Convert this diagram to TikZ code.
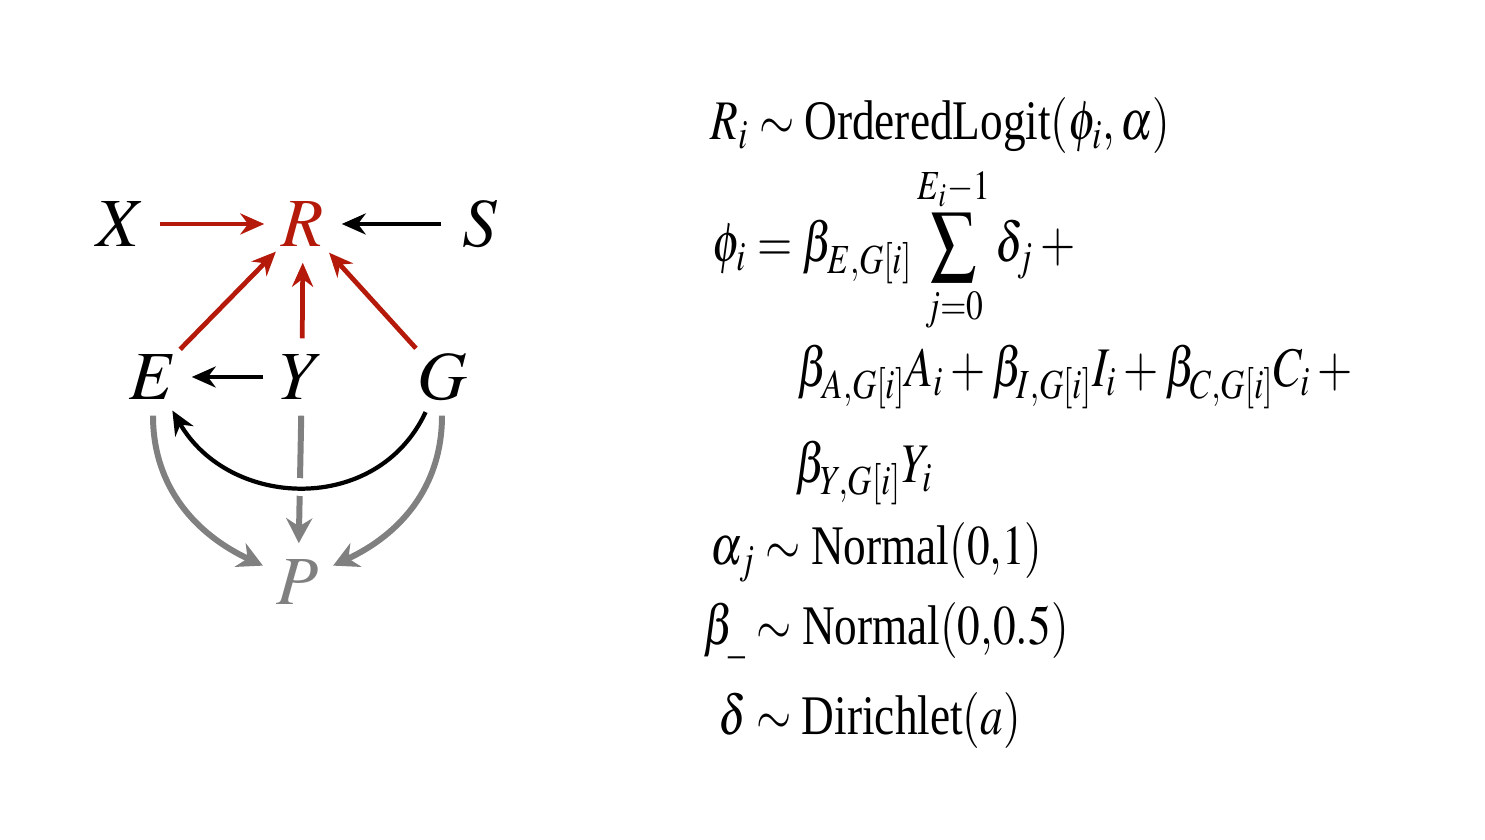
\documentclass[tikz,border=0pt]{standalone}
\usepackage{amsmath}
\usepackage{mathptmx}
\usepackage[no-math]{fontspec}
\setmainfont{Liberation Serif}
\usepackage{graphicx}
\usetikzlibrary{arrows.meta}
\definecolor{rred}{RGB}{180,25,10}

\begin{document}
\begin{tikzpicture}[x=0.01cm,y=0.01cm,
    var/.style={circle,inner sep=0pt,minimum size=0.76cm,font=\fontsize{19.6}{23}\selectfont},
    redarrow/.style={draw=rred,line width=1.35pt,-{Stealth[length=2.4mm,width=2.1mm]}},
    blackarrow/.style={draw=black,line width=1.35pt,-{Stealth[length=2.4mm,width=2.1mm]}},
    grayarrow/.style={draw=gray,line width=1.7pt,-{Stealth[length=2.5mm,width=2.6mm]}},
    eqline/.style={anchor=base west,inner sep=0pt,font=\fontsize{15.9}{19}\selectfont}]
            \useasboundingbox (0,0) rectangle (1485,840);

            % variables
            \node[var] (X) at (121,616) {$X$};
            \node[var,text=rred] (R) at (303,616) {$R$};
            \node[var] (S) at (480,616) {$S$};
            \node[var] (E) at (153,463) {$E$};
            \node[var] (Y) at (302,463) {$Y$};
            \node[var] (G) at (442,463) {$G$};
            \node[var,text=gray] (P) at (298,258) {$P$};

            % arrows into R
                 \foreach \src in {X,E,Y,G}
                     \draw[redarrow] (\src) -- (R);
            \draw[blackarrow] (S) -- (R);
            \draw[blackarrow] (Y) -- (E);

            % arrows into P
            \draw[grayarrow] (Y) -- (P);
            \draw[grayarrow] (E) to[out=-90,in=155] (P);
            \draw[grayarrow] (G) to[out=-90,in=25] (P);
            \draw[blackarrow,line width=1.2pt,preaction={draw=white,line width=5pt,-}]
                (G) to[out=-115,in=-60,looseness=1.15] (E);

            % model
            \node[eqline] (lik) at (710,700) {\scalebox{0.81}[1]{$R_i \sim \text{OrderedLogit}(\phi_i, \alpha)$}};
            \node[eqline] (phi) at (712,578) {\scalebox{0.81}[1]{$\displaystyle \phi_i = \beta_{E,G[i]} \sum_{j=0}^{E_i-1} \delta_j +{}$}};
            \node[eqline] (phib) at (797,453) {\scalebox{0.81}[1]{$\beta_{A,G[i]}A_i + \beta_{I,G[i]}I_i + \beta_{C,G[i]}C_i +{}$}};
            \node[eqline] (phic) at (795,357) {\scalebox{0.81}[1]{$\beta_{Y,G[i]}Y_i$}};
            \node[eqline] (alpha) at (710,275) {\scalebox{0.81}[1]{$\alpha_j \sim \text{Normal}(0{,}1)$}};
            \node[eqline] (beta) at (703,195) {\scalebox{0.81}[1]{$\beta_{\_} \sim \text{Normal}(0{,}0.5)$}};
            \node[eqline] (delta) at (718,105) {\scalebox{0.81}[1]{$\delta \sim \text{Dirichlet}(a)$}};
\end{tikzpicture}
\end{document}
